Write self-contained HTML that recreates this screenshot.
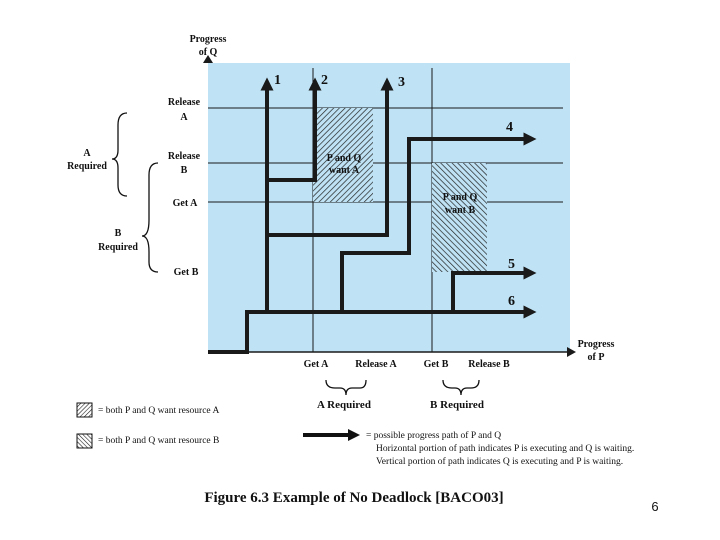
<!DOCTYPE html>
<html><head><meta charset="utf-8"><style>
body{margin:0;background:#fff;}
svg{display:block;font-family:"Liberation Serif",serif;}
</style></head><body>
<svg width="720" height="540" viewBox="0 0 720 540" xmlns="http://www.w3.org/2000/svg">
<defs>
<pattern id="ha" width="4" height="4" patternUnits="userSpaceOnUse" patternTransform="rotate(45)"><rect width="4" height="4" fill="#bfe3f5"/><line x1="0" y1="0" x2="0" y2="4" stroke="#222" stroke-width="1.4"/></pattern>
<pattern id="hb" width="4" height="4" patternUnits="userSpaceOnUse" patternTransform="rotate(-45)"><rect width="4" height="4" fill="#bfe3f5"/><line x1="0" y1="0" x2="0" y2="4" stroke="#222" stroke-width="1.4"/></pattern>
<pattern id="la" width="3" height="3" patternUnits="userSpaceOnUse" patternTransform="rotate(45)"><rect width="3" height="3" fill="#fff"/><line x1="0" y1="0" x2="0" y2="3" stroke="#222" stroke-width="1.2"/></pattern>
<pattern id="lb" width="3" height="3" patternUnits="userSpaceOnUse" patternTransform="rotate(-45)"><rect width="3" height="3" fill="#fff"/><line x1="0" y1="0" x2="0" y2="3" stroke="#222" stroke-width="1.2"/></pattern>
<marker id="ar" viewBox="0 0 10 10" refX="2" refY="5" markerWidth="3.3" markerHeight="3.3" orient="auto"><path d="M0,0L10,5L0,10z" fill="#1a1a1a"/></marker>
</defs>
<rect x="208" y="63" width="362" height="289" fill="#bfe3f5"/>
<g stroke="#1a1a1a" stroke-width="1">
<line x1="313" y1="68" x2="313" y2="352"/><line x1="432" y1="68" x2="432" y2="352"/>
<line x1="208" y1="108" x2="563" y2="108"/><line x1="208" y1="163" x2="563" y2="163"/><line x1="208" y1="202" x2="563" y2="202"/>
</g>
<rect x="313" y="108" width="60" height="94" fill="url(#ha)"/>
<rect x="432" y="163" width="55" height="109" fill="url(#hb)"/>
<g font-size="10" font-weight="bold" fill="#111" text-anchor="middle">
<text x="344" y="161">P and Q</text><text x="344" y="173">want A</text>
<text x="460" y="200">P and Q</text><text x="460" y="213">want B</text>
</g>
<g fill="none" stroke="#1a1a1a" stroke-width="4">
<polyline points="208,352 247,352 247,312 526,312" marker-end="url(#ar)"/>
<polyline points="267,312 267,88" marker-end="url(#ar)"/>
<polyline points="267,180 315,180 315,88" marker-end="url(#ar)"/>
<polyline points="267,235 387,235 387,88" marker-end="url(#ar)"/>
<polyline points="342,312 342,253 409,253 409,139 526,139" marker-end="url(#ar)"/>
<polyline points="453,312 453,273 526,273" marker-end="url(#ar)"/>
</g>
<line x1="248" y1="352" x2="568" y2="352" stroke="#1a1a1a" stroke-width="1.5"/>
<path d="M567,347 L576,352 L567,357z" fill="#1a1a1a"/>
<path d="M203,63 L208,55 L213,63z" fill="#1a1a1a"/>
<g font-size="14" font-weight="bold" fill="#111">
<text x="274" y="84">1</text><text x="321" y="84">2</text><text x="398" y="86">3</text>
<text x="506" y="131">4</text><text x="508" y="268">5</text><text x="508" y="305">6</text>
</g>
<g font-size="10" fill="#111" text-anchor="middle" font-weight="bold">
<text x="208" y="42">Progress</text><text x="208" y="55">of Q</text>
<text x="184" y="105">Release</text><text x="184" y="120">A</text>
<text x="184" y="159">Release</text><text x="184" y="173">B</text>
<text x="185" y="206">Get A</text><text x="186" y="275">Get B</text>
<text x="87" y="156">A</text><text x="87" y="169">Required</text>
<text x="118" y="236">B</text><text x="118" y="250">Required</text>
<text x="596" y="347">Progress</text><text x="596" y="360">of P</text>
<text x="316" y="367">Get A</text><text x="376" y="367">Release A</text>
<text x="436" y="367">Get B</text><text x="489" y="367">Release B</text>
<text x="344" y="408" font-size="11">A Required</text><text x="457" y="408" font-size="11">B Required</text>
</g>
<g fill="none" stroke="#111" stroke-width="1.3">
<path d="M127,113 Q118,113 118,125 L118,150 Q118,159 112,159 Q118,159 118,168 L118,185 Q118,196 127,196"/>
<path d="M158,163 Q149,163 149,175 L149,220 Q149,236 142,236 Q149,236 149,252 L149,262 Q149,272 158,272"/>
<path d="M326,380 Q326,388 335,388 L340,388 Q346,388 346,395 Q346,388 352,388 L360,388 Q366,388 366,380"/>
<path d="M443,380 Q443,388 452,388 L455,388 Q461,388 461,395 Q461,388 467,388 L471,388 Q479,388 479,380"/>
</g>
<rect x="77" y="403" width="15" height="14" fill="url(#la)" stroke="#111"/>
<rect x="77" y="434" width="15" height="14" fill="url(#lb)" stroke="#111"/>
<g font-size="9.5" fill="#111">
<text x="98" y="413">= both P and Q want resource A</text>
<text x="98" y="443">= both P and Q want resource B</text>
<text x="366" y="438">= possible progress path of P and Q</text>
<text x="376" y="451">Horizontal portion of path indicates P is executing and Q is waiting.</text>
<text x="376" y="464">Vertical portion of path indicates Q is executing and P is waiting.</text>
</g>
<line x1="303" y1="435" x2="350" y2="435" stroke="#111" stroke-width="4"/>
<path d="M348,429 L360,435 L348,441z" fill="#111"/>
<text x="354" y="502" font-size="15" font-weight="bold" text-anchor="middle" fill="#111">Figure 6.3   Example of No Deadlock [BACO03]</text>
<text x="655" y="511" font-size="13" font-family="Liberation Sans,sans-serif" fill="#111" text-anchor="middle">6</text>
</svg>
</body></html>
